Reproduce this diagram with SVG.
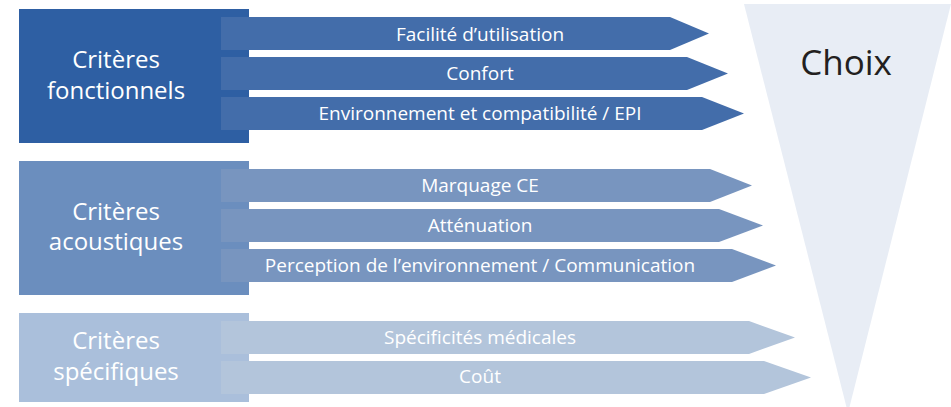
<svg xmlns="http://www.w3.org/2000/svg" width="951" height="407" viewBox="0 0 951 407">
<style>
text{font-family:"Open Sans","Noto Sans","Liberation Sans",sans-serif;fill:#fff;text-anchor:middle}
.t{font-size:24px}
.a{font-size:19px}
.c1{fill:#2E5FA3}.a1{fill:#436DAA}
.c2{fill:#6B8EBE}.a2{fill:#7895BF}
.c3{fill:#AABFDB}.a3{fill:#B3C5DB}
</style>
<g id="funnel">
<polygon points="744,4 951,4 848,413" fill="#E8EDF5"/>
<text x="846" y="75" style="font-size:35px;fill:#231F20">Choix</text>
</g>
<g id="fonctionnels">
<rect class="c1" x="19" y="9" width="230" height="134"/>
<text class="t" x="116" y="68">Critères</text>
<text class="t" x="116" y="99">fonctionnels</text>
</g>
<g id="acoustiques">
<rect class="c2" x="19" y="161" width="230" height="134"/>
<text class="t" x="116" y="220">Critères</text>
<text class="t" x="116" y="250">acoustiques</text>
</g>
<g id="specifiques">
<rect class="c3" x="19" y="313" width="230" height="89"/>
<text class="t" x="116" y="349">Critères</text>
<text class="t" x="116" y="380">spécifiques</text>
</g>
<g id="connectors">
<g id="a-facilite"><polygon class="a1" points="221,17 670,17 709,33.5 670,50 221,50"/><text class="a" x="480" y="41">Facilité d’utilisation</text></g>
<g id="a-confort"><polygon class="a1" points="221,57 687,57 728,73.5 687,90 221,90"/><text class="a" x="480" y="80">Confort</text></g>
<g id="a-env"><polygon class="a1" points="221,97 702,97 744,113.5 702,130 221,130"/><text class="a" x="480" y="119.5">Environnement et compatibilité / EPI</text></g>
<g id="a-ce"><polygon class="a2" points="221,169 710,169 752,185.5 710,202 221,202"/><text class="a" x="480" y="191.5">Marquage CE</text></g>
<g id="a-att"><polygon class="a2" points="221,209 719,209 763,225.5 719,242 221,242"/><text class="a" x="480" y="231.5">Atténuation</text></g>
<g id="a-perc"><polygon class="a2" points="221,249 732,249 776,265.5 732,282 221,282"/><text class="a" x="480" y="271.5">Perception de l’environnement / Communication</text></g>
<g id="a-med"><polygon class="a3" points="221,321 749,321 795,337.5 749,354 221,354"/><text class="a" x="480" y="343.5">Spécificités médicales</text></g>
<g id="a-cout"><polygon class="a3" points="221,361 764,361 811,377.5 764,394 221,394"/><text class="a" x="480" y="383">Coût</text></g>
</g>
</svg>
